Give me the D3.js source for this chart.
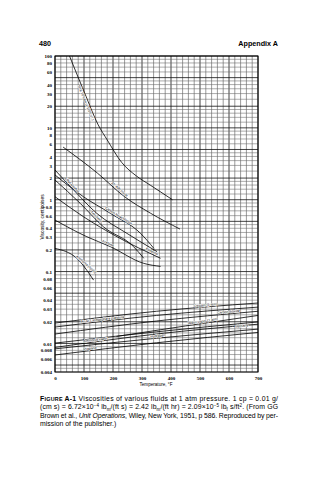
<!DOCTYPE html>
<html>
<head>
<meta charset="utf-8">
<script src="https://cdn.jsdelivr.net/npm/d3@7"></script>
<style>
  body { margin: 0; background: #fff; }
  svg { display: block; }
</style>
</head>
<body>
<svg id="page" width="319" height="480"></svg>
<script>
// axis ticks
const tempTicks = [0, 100, 200, 300, 400, 500, 600, 700];
const viscTicks = [100, 80, 60, 40, 30, 20, 10, 8, 6, 4, 3, 2, 1, 0.8, 0.6, 0.4, 0.3, 0.2,
                   0.1, 0.08, 0.06, 0.04, 0.03, 0.02, 0.01, 0.008, 0.006, 0.004];
const viscTickText = ["100", "80", "60", "40", "30", "20", "10", "8", "6", "4", "3", "2", "1",
                      "0.8", "0.6", "0.4", "0.3", "0.2", "0.1", "0.08", "0.06", "0.04", "0.03",
                      "0.02", "0.01", "0.008", "0.006", "0.004"];

// liquids: [temperature F, viscosity cp]
const sae10 = [[50, 100], [103, 30], [149, 11], [180, 6.8], [230, 3.3], [280, 2.15], [330, 1.58], [405, 1.0]];
const crude = [[28, 5.4], [146, 2.35], [240, 1.1], [329, 0.65], [431, 0.39]];
const ethylAlcohol = [[0, 2.59], [64, 1.37], [144, 0.646], [248, 0.34], [352, 0.189]];
const carbonTet = [[0, 2.21], [98, 1.1], [191, 0.646], [295, 0.34], [341, 0.21]];
const kerosene = [[0, 1.88], [87, 0.89], [167, 0.42], [271, 0.222], [306, 0.153]];
const benzene = [[0, 1.1], [98, 0.58], [214, 0.305], [364, 0.153]];
const acetone = [[0, 0.52], [110, 0.305], [191, 0.222], [306, 0.13], [364, 0.118]];
const ammoniaLiq = [[0, 0.21], [75, 0.153], [133, 0.076]];

// gases
const oxygen = [[0, 0.0192], [350, 0.028], [700, 0.0365]];
const air = [[0, 0.0169], [350, 0.0245], [700, 0.032]];
const carbonDioxide = [[0, 0.0135], [350, 0.0205], [700, 0.028]];
const waterVapor = [[212, 0.0125], [450, 0.0175], [700, 0.0245]];
const methane = [[0, 0.0101], [350, 0.0145], [700, 0.0199]];
const ammoniaVap = [[0, 0.0088], [350, 0.0135], [700, 0.0185]];
const hydrogen = [[0, 0.0084], [350, 0.0118], [700, 0.0158]];
const propane = [[0, 0.0069], [350, 0.0102], [700, 0.0142]];

const curves = [
  { name: "SAE 10 lube oil (100 V.I.)", pts: sae10, at: 90, side: 1 },
  { name: "32° API crude", pts: crude, at: 190, side: -1 },
  { name: "Ethyl alcohol", pts: ethylAlcohol, at: 30, side: -1 },
  { name: "Carbon tetrachloride", pts: carbonTet, at: 170, side: -1 },
  { name: "Kerosene", pts: kerosene, at: 120, side: -1 },
  { name: "Benzene", pts: benzene, at: 310, side: -1 },
  { name: "Acetone", pts: acetone, at: 160, side: -1 },
  { name: "Ammonia (liquid)", pts: ammoniaLiq, at: 70, side: -1 },
  { name: "Oxygen (1 atm)", pts: oxygen, at: 480, side: -1 },
  { name: "Air at 1 atmosphere pressure", pts: air, at: 90, side: -1 },
  { name: "Carbon dioxide", pts: carbonDioxide, at: 560, side: -1 },
  { name: "Water vapor (1 atm)", pts: waterVapor, at: 460, side: -1 },
  { name: "Methane", pts: methane, at: 620, side: 1 },
  { name: "Ammonia vapor", pts: ammoniaVap, at: 100, side: -1 },
  { name: "Hydrogen", pts: hydrogen, at: 330, side: -1 },
  { name: "Propane", pts: propane, at: 100, side: -1 }
];

const svg = d3.select("#page");
const plot = { left: 55, right: 258, top: 56, bottom: 372 };

const x = d3.scaleLinear().domain([0, 700]).range([plot.left, plot.right]);
const y = d3.scaleLog().domain([100, 0.004]).range([plot.top, plot.bottom]);

// page header
svg.append("text").attr("x", 39).attr("y", 46)
  .attr("font-family", "Liberation Sans, Arial, sans-serif")
  .attr("font-size", 7.2).attr("font-weight", "bold").text("480");
svg.append("text").attr("x", 278).attr("y", 46).attr("text-anchor", "end")
  .attr("font-family", "Liberation Sans, Arial, sans-serif")
  .attr("font-size", 7.2).attr("font-weight", "bold").text("Appendix A");

const g = svg.append("g");

// grid, 20 F verticals and log paper horizontals
let vLines = d3.range(0, 701, 20);
g.append("g").selectAll("line").data(vLines).enter().append("line")
  .attr("x1", d => x(d)).attr("x2", d => x(d))
  .attr("y1", plot.top).attr("y2", plot.bottom)
  .attr("stroke", d => d % 100 == 0 ? "#111" : "#555")
  .attr("stroke-width", d => d % 100 == 0 ? 0.8 : 0.6);

let mant = [1, 1.2, 1.4, 1.6, 1.8, 2, 2.5, 3, 3.5, 4, 4.5, 5, 6, 7, 8, 9];
let hLines = [];
for (let dec of [0.001, 0.01, 0.1, 1, 10]) {
  for (let m of mant) {
    let v = +(m * dec).toPrecision(3);
    if (v >= 0.004 && v <= 100) hLines.push({ v: v, major: m == 1 || m == 2 || m == 5 });
  }
}
hLines.push({ v: 100, major: true });
g.append("g").selectAll("line").data(hLines).enter().append("line")
  .attr("x1", plot.left).attr("x2", plot.right)
  .attr("y1", d => y(d.v)).attr("y2", d => y(d.v))
  .attr("stroke", d => d.major ? "#111" : "#666")
  .attr("stroke-width", d => d.major ? 0.8 : 0.55);

// frame
g.append("rect").attr("x", plot.left).attr("y", plot.top)
  .attr("width", plot.right - plot.left).attr("height", plot.bottom - plot.top)
  .attr("fill", "none").attr("stroke", "#000").attr("stroke-width", 1);

// axes
let yAxis = g.append("g").attr("transform", "translate(" + plot.left + ",0)")
  .call(d3.axisLeft(y).tickValues(viscTicks)
    .tickFormat((d, i) => viscTickText[i]).tickSize(0).tickPadding(3));
yAxis.select(".domain").remove();
yAxis.selectAll("text").attr("font-family", "Liberation Serif, serif")
  .attr("font-size", 5).attr("font-weight", "bold");

let xAxis = g.append("g").attr("transform", "translate(0," + plot.bottom + ")")
  .call(d3.axisBottom(x).tickValues(tempTicks).tickSize(0).tickPadding(4));
xAxis.select(".domain").remove();
xAxis.selectAll("text").attr("font-family", "Liberation Serif, serif")
  .attr("font-size", 5).attr("font-weight", "bold");

svg.append("text").attr("x", 156).attr("y", 386).attr("text-anchor", "middle")
  .attr("font-family", "Liberation Sans, Arial, sans-serif").attr("font-size", 4.6)
  .text("Temperature, °F");
svg.append("text")
  .attr("transform", "translate(44,217) rotate(-90)").attr("text-anchor", "middle")
  .attr("font-family", "Liberation Sans, Arial, sans-serif").attr("font-size", 4.8)
  .text("Viscosity, centipoises");

// curves
svg.append("clipPath").attr("id", "clip").append("rect")
  .attr("x", plot.left).attr("y", plot.top)
  .attr("width", plot.right - plot.left).attr("height", plot.bottom - plot.top);

let line = d3.line().x(d => x(d[0])).y(d => y(d[1])).curve(d3.curveMonotoneX);
g.append("g").attr("clip-path", "url(#clip)").selectAll("path").data(curves).enter()
  .append("path").attr("d", d => line(d.pts))
  .attr("fill", "none").attr("stroke", "#000").attr("stroke-width", 0.8);

// labels sit along the curve
function logAt(pts, t) {
  for (let i = 1; i < pts.length; i++) {
    if (t <= pts[i][0]) {
      let a = pts[i - 1], b = pts[i];
      let f = (t - a[0]) / (b[0] - a[0]);
      return Math.pow(10, Math.log10(a[1]) + f * (Math.log10(b[1]) - Math.log10(a[1])));
    }
  }
  return pts[pts.length - 1][1];
}
let lab = g.append("g");
curves.forEach(function (c) {
  let px = x(c.at), py = y(logAt(c.pts, c.at));
  let px2 = x(c.at + 10), py2 = y(logAt(c.pts, c.at + 10));
  let ang = Math.atan2(py2 - py, px2 - px) * 180 / Math.PI;
  lab.append("text")
    .attr("transform", "translate(" + px + "," + py + ") rotate(" + ang + ")")
    .attr("dy", c.side < 0 ? -1.2 : 3.6)
    .attr("font-family", "Liberation Sans, Arial, sans-serif")
    .attr("font-size", 3.4).attr("fill", "#000")
    .attr("stroke", "#fff").attr("stroke-width", 0.9).attr("paint-order", "stroke")
    .text(c.name);
});

// caption
let cap = svg.append("g").attr("font-family", "Liberation Sans, Arial, sans-serif")
  .attr("font-size", 6.9).attr("fill", "#000");
let l1 = cap.append("text").attr("x", 40).attr("y", 400.5)
  .attr("textLength", 238).attr("lengthAdjust", "spacing");
l1.append("tspan").attr("font-weight", "bold").text("F");
l1.append("tspan").attr("font-weight", "bold").attr("font-size", 5.4).text("IGURE ");
l1.append("tspan").attr("font-weight", "bold").text("A-1");
l1.append("tspan").text("  Viscosities of various fluids at 1 atm pressure. 1 cp = 0.01 g/");

let l2 = cap.append("text").attr("x", 40).attr("y", 409)
  .attr("textLength", 238).attr("lengthAdjust", "spacing");
l2.append("tspan").text("(cm s) = 6.72×10");
l2.append("tspan").attr("font-size", 4.5).attr("dy", -2.5).text("−4");
l2.append("tspan").attr("dy", 2.5).text(" lb");
l2.append("tspan").attr("font-size", 4.5).attr("dy", 1.5).text("m");
l2.append("tspan").attr("dy", -1.5).text("/(ft s) = 2.42 lb");
l2.append("tspan").attr("font-size", 4.5).attr("dy", 1.5).text("m");
l2.append("tspan").attr("dy", -1.5).text("/(ft hr) = 2.09×10");
l2.append("tspan").attr("font-size", 4.5).attr("dy", -2.5).text("−5");
l2.append("tspan").attr("dy", 2.5).text(" lb");
l2.append("tspan").attr("font-size", 4.5).attr("dy", 1.5).text("f");
l2.append("tspan").attr("dy", -1.5).text(" s/ft");
l2.append("tspan").attr("font-size", 4.5).attr("dy", -2.5).text("2");
l2.append("tspan").attr("dy", 2.5).text(". (From GG");

let l3 = cap.append("text").attr("x", 40).attr("y", 417.5)
  .attr("textLength", 238).attr("lengthAdjust", "spacing");
l3.append("tspan").text("Brown et al., ");
l3.append("tspan").attr("font-style", "italic").text("Unit Operations");
l3.append("tspan").text(", Wiley, New York, 1951, p 586. Reproduced by per-");

cap.append("text").attr("x", 40).attr("y", 426).text("mission of the publisher.)");
</script>
</body>
</html>
